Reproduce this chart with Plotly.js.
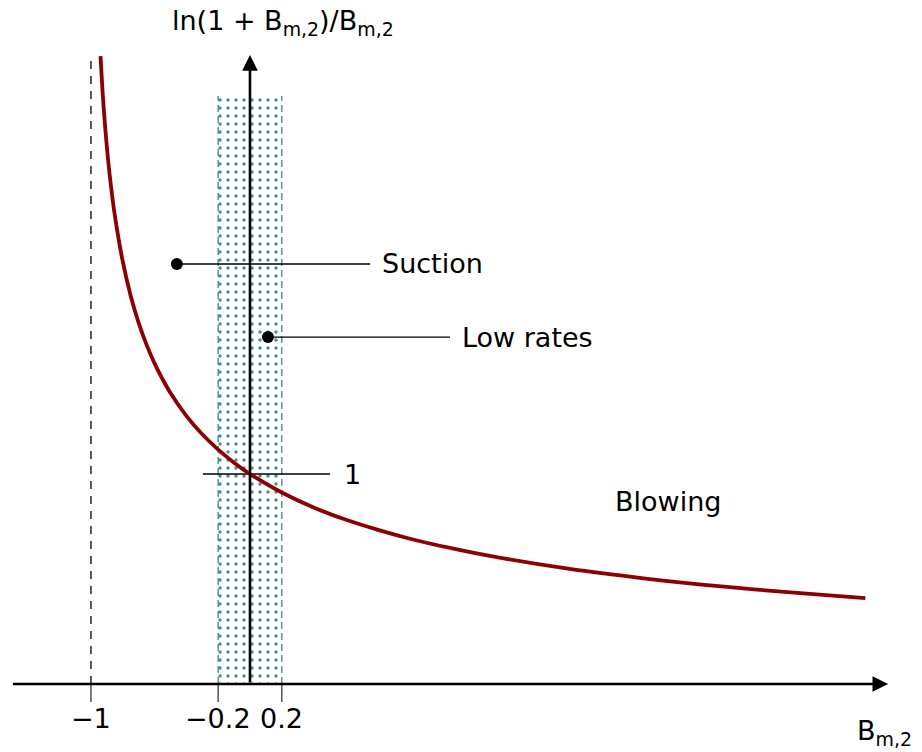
<!DOCTYPE html>
<html>
<head>
<meta charset="utf-8">
<script src="https://cdn.plot.ly/plotly-3.0.1.min.js"></script>
<style>
html,body{margin:0;padding:0;background:#fff;}
#chart{width:922px;height:752px;}
</style>
</head>
<body>
<div id="chart"></div>
<script>
// Curve values: ln(1+B)/B
const curveB = [-0.94, -0.93, -0.92, -0.9, -0.88, -0.85, -0.8, -0.75, -0.7, -0.65, -0.6, -0.55, -0.5, -0.4, -0.3, -0.2, -0.1, 0, 0.2, 0.4, 0.6, 0.8, 1.0, 1.25, 1.5, 2.0, 2.5, 3.0, 3.5, 3.87];
const curveY = [2.99, 2.859, 2.745, 2.558, 2.409, 2.232, 2.012, 1.848, 1.72, 1.615, 1.527, 1.452, 1.386, 1.277, 1.189, 1.116, 1.054, 1.0, 0.912, 0.841, 0.783, 0.735, 0.693, 0.649, 0.611, 0.549, 0.501, 0.462, 0.43, 0.409];

const tickValues = [-1, -0.2, 0.2];
const tickLabels = ['\u22121', '\u22120.2', '0.2'];
const lowRateBand = [-0.2, 0.2];
const bandTop = 2.8;

const markerNames = ['Suction', 'Low rates'];
const markerB = [-0.46, 0.113];
const markerY = [2.0, 1.652];
const markerLineEnd = [0.755, 1.258];
const oneLine = [-0.296, 0.503];
const blowingPos = [2.63, 0.867];

const xTitle = 'B<sub>m,2</sub>';
const yTitle = 'ln(1 + B<sub>m,2</sub>)/B<sub>m,2</sub>';

const FONT = 'DejaVu Sans, Verdana, sans-serif';
const FS = 27;
const teal = '#4d8c8c';

const traces = [];
// shaded band
traces.push({
  x: [lowRateBand[0], lowRateBand[1], lowRateBand[1], lowRateBand[0], lowRateBand[0]],
  y: [0, 0, bandTop, bandTop, 0],
  mode: 'lines', fill: 'toself', line: {width: 0, color: 'rgba(0,0,0,0)'},
  fillcolor: 'rgba(255,255,255,0)',
  fillpattern: {shape: '.', fgcolor: teal, bgcolor: 'rgba(255,255,255,0)', size: 8, solidity: 0.15},
  hoverinfo: 'skip'
});
// band borders
lowRateBand.forEach(b => traces.push({x: [b, b], y: [0, bandTop], mode: 'lines', line: {color: teal, width: 1.4, dash: '7px,4px'}, hoverinfo: 'skip'}));
// asymptote at -1
traces.push({x: [-1, -1], y: [0, 3.0], mode: 'lines', line: {color: '#000', width: 1.3, dash: '8px,7px'}, hoverinfo: 'skip'});
// tick marks
tickValues.forEach(t => traces.push({x: [t, t], y: [0, -0.086], mode: 'lines', line: {color: '#555', width: 1.5}, hoverinfo: 'skip'}));
// marker lines
markerNames.forEach((n, i) => traces.push({x: [markerB[i], markerLineEnd[i]], y: [markerY[i], markerY[i]], mode: 'lines', line: {color: '#000', width: 1.3}, hoverinfo: 'skip'}));
traces.push({x: oneLine, y: [1, 1], mode: 'lines', line: {color: '#000', width: 1.3}, hoverinfo: 'skip'});
// curve
traces.push({x: curveB, y: curveY, mode: 'lines', line: {color: '#8b0000', width: 3.8, shape: 'spline', smoothing: 1}, hoverinfo: 'skip'});
// dots
traces.push({x: markerB, y: markerY, mode: 'markers', marker: {color: '#000', size: 12}, hoverinfo: 'skip'});

const ann = [];
// axes with arrows
ann.push({x: 4.013, y: 0, ax: -1.5, ay: 0, axref: 'x', ayref: 'y', xref: 'x', yref: 'y', text: '', showarrow: true, arrowhead: 2, arrowsize: 1.2, arrowwidth: 2.6, arrowcolor: '#000'});
ann.push({x: 0, y: 2.995, ax: 0, ay: 0, axref: 'x', ayref: 'y', xref: 'x', yref: 'y', text: '', showarrow: true, arrowhead: 2, arrowsize: 1.2, arrowwidth: 2.6, arrowcolor: '#000'});
// tick labels
tickValues.forEach((t, i) => ann.push({x: t, y: -0.165, xref: 'x', yref: 'y', text: tickLabels[i], showarrow: false, font: {family: FONT, size: FS, color: '#000'}}));
// marker labels
markerNames.forEach((n, i) => ann.push({x: markerLineEnd[i], y: markerY[i], xref: 'x', yref: 'y', text: n, xanchor: 'left', xshift: 10, showarrow: false, font: {family: FONT, size: FS, color: '#000'}}));
ann.push({x: oneLine[1], y: 1, xref: 'x', yref: 'y', text: '1', xanchor: 'left', xshift: 12, showarrow: false, font: {family: FONT, size: FS, color: '#000'}});
ann.push({x: blowingPos[0], y: blowingPos[1], xref: 'x', yref: 'y', text: 'Blowing', showarrow: false, font: {family: FONT, size: FS, color: '#000'}});
// axis titles
ann.push({x: 3.99, y: -0.232, xref: 'x', yref: 'y', text: xTitle, showarrow: false, font: {family: FONT, size: FS, color: '#000'}});
ann.push({x: 0.21, y: 3.15, xref: 'x', yref: 'y', text: yTitle, showarrow: false, font: {family: FONT, size: FS, color: '#000'}});

const layout = {
  width: 922, height: 752,
  margin: {l: 0, r: 0, t: 0, b: 0},
  paper_bgcolor: '#fff', plot_bgcolor: '#fff',
  showlegend: false,
  xaxis: {range: [-1.572, 4.226], visible: false, fixedrange: true},
  yaxis: {range: [-0.3238, 3.2571], visible: false, fixedrange: true},
  annotations: ann
};
Plotly.newPlot('chart', traces, layout, {staticPlot: true, displayModeBar: false});
</script>
</body>
</html>
